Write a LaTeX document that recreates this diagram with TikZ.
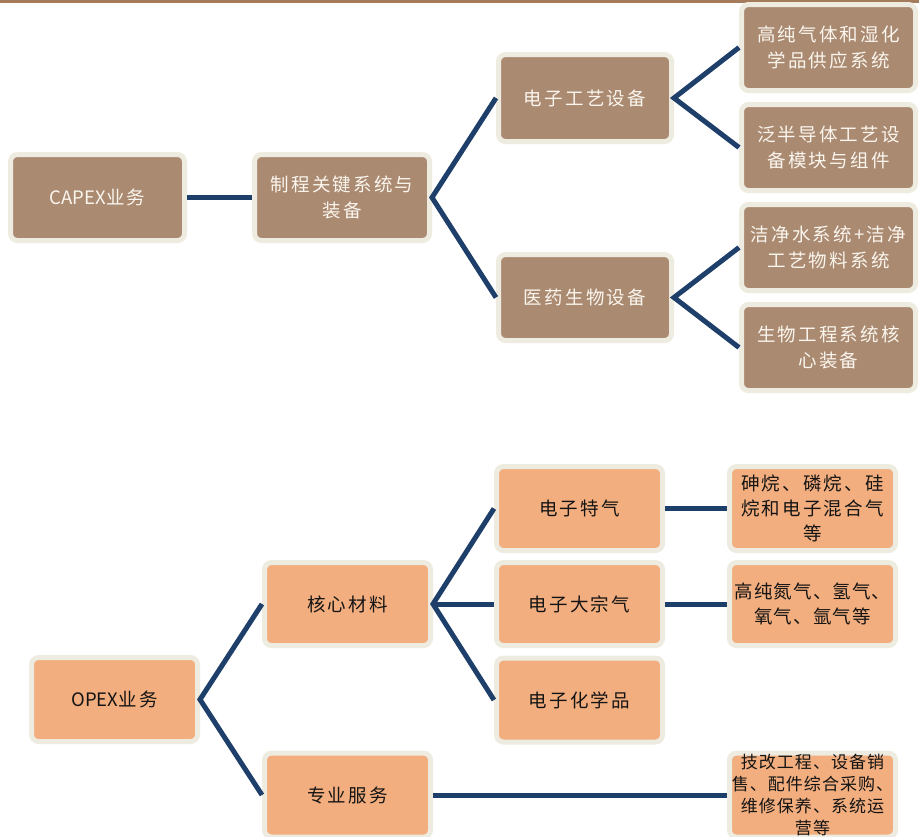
\documentclass[tikz,border=0pt]{standalone}
\usepackage{fontspec}
\setmainfont{Noto Sans CJK SC}
\newfontfamily\cjkfont[LetterSpace=12]{Noto Sans CJK SC}
\newfontfamily\cjktight[LetterSpace=6]{Noto Sans CJK SC}
\newfontfamily\latinfont{Noto Sans CJK SC}
\definecolor{capbrown}{RGB}{171,138,114}
\definecolor{opexorange}{RGB}{242,174,126}
\definecolor{rimcream}{RGB}{238,235,224}
\definecolor{rulebrown}{RGB}{164,124,92}
\definecolor{linknavy}{RGB}{31,63,107}
\definecolor{lighttext}{RGB}{250,246,238}
\begin{document}
\begin{tikzpicture}[x=1pt,y=-1pt,
  box/.style={draw=rimcream, line width=5pt, rounded corners=7pt,
    minimum width=166pt, minimum height=84pt, align=center, inner sep=0pt,
    font=\cjkfont\fontsize{18.5}{26}\selectfont},
  capbox/.style={box, fill=capbrown, text=lighttext},
  opbox/.style={box, fill=opexorange, text=black!92, font=\cjkfont\fontsize{18.5}{25}\selectfont},
  link/.style={draw=linknavy, line width=5pt}]
\useasboundingbox (0,0) rectangle (919,836);
\draw[rulebrown, line width=3pt] (0,1.5) -- (919,1.5);

% CAPEX branch
\node[capbox, minimum width=174pt, minimum height=86pt] (capex) at (97.5,197.5) {{\latinfont CAPEX}业务};
\node[capbox, minimum width=175pt, minimum height=86pt] (zhicheng) at (342,197.5) {制程关键系统与\\装备};
\node[capbox, minimum width=173pt, minimum height=87pt] (dianzi) at (585,98) {电子工艺设备};
\node[capbox, minimum width=173pt, minimum height=86pt] (yiyao) at (585,297.5) {医药生物设备};
\node[capbox, minimum width=174pt, minimum height=86pt] (gaochun) at (828.5,47.5) {高纯气体和湿化\\学品供应系统};
\node[capbox, minimum width=174pt, minimum height=86pt] (fanban) at (828.5,147.5) {泛半导体工艺设\\备模块与组件};
\node[capbox, minimum width=174pt, minimum height=86pt] (jiejing) at (828.5,247.5) {洁净水系统+洁净\\工艺物料系统};
\node[capbox, minimum width=174pt, minimum height=86pt] (shengwu) at (828.5,347.5) {生物工程系统核\\心装备};

\draw[link] (capex.east) -- (zhicheng.west);
\draw[link] (dianzi.west) -- (zhicheng.east) -- (yiyao.west);
\draw[link] (gaochun.west) -- (dianzi.east) -- (fanban.west);
\draw[link] (jiejing.west) -- (yiyao.east) -- (shengwu.west);

% OPEX branch
\node[opbox] (opex) at (114.5,699.5) {{\latinfont OPEX}业务};
\node[opbox, minimum height=83pt] (hexin) at (347.5,604) {核心材料};
\node[opbox] (zhuanye) at (347.5,795) {专业服务};
\node[opbox] (teqi) at (579.5,508.5) {电子特气};
\node[opbox, minimum height=83pt] (dazong) at (579.5,604) {电子大宗气};
\node[opbox] (huaxue) at (579.5,700) {电子化学品};
\node[opbox] (shenwan) at (812.5,508.5) {砷烷、磷烷、硅\\烷和电子混合气\\等};
\node[opbox, minimum height=83pt, font=\cjktight\fontsize{18.5}{25}\selectfont] (danqi) at (812.5,604) {高纯氮气、氢气、\\氧气、氩气等};
\node[opbox, font=\cjktight\fontsize{17}{22}\selectfont] (jigai) at (812.5,795) {技改工程、设备销\\售、配件综合采购、\\维修保养、系统运\\营等};

\draw[link] (hexin.west) -- (opex.east) -- (zhuanye.west);
\draw[link] (teqi.west) -- (hexin.east) -- (huaxue.west);
\draw[link] (hexin.east) -- (dazong.west);
\draw[link] (teqi.east) -- (shenwan.west);
\draw[link] (dazong.east) -- (danqi.west);
\draw[link] (zhuanye.east) -- (jigai.west);
\end{tikzpicture}
\end{document}
